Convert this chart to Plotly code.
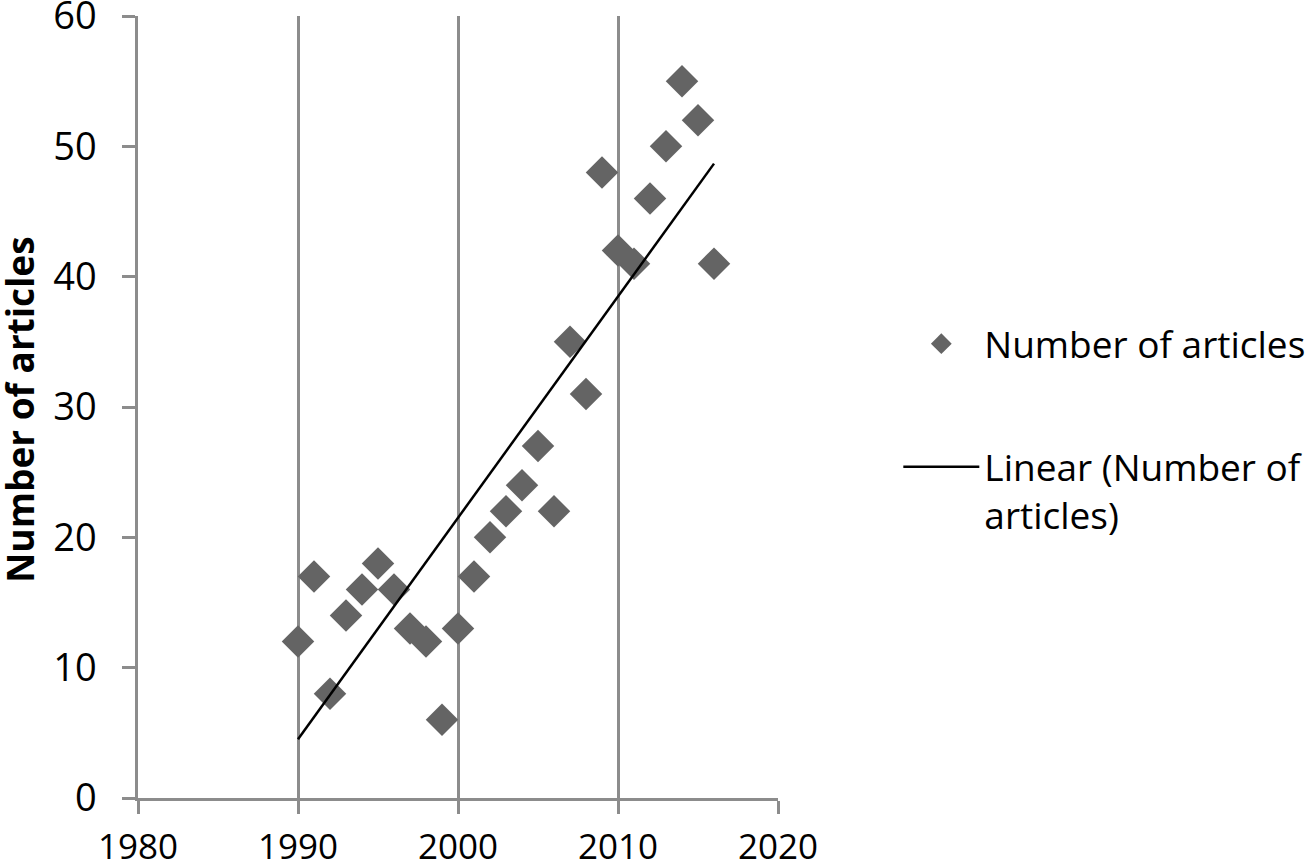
import numpy as np
import plotly.graph_objects as go

years = [1990, 1991, 1992, 1993, 1994, 1995, 1996, 1997, 1998, 1999,
         2000, 2001, 2002, 2003, 2004, 2005, 2006, 2007, 2008, 2009,
         2010, 2011, 2012, 2013, 2014, 2015, 2016]
articles = [12, 17, 8, 14, 16, 18, 16, 13, 12, 6,
            13, 17, 20, 22, 24, 27, 22, 35, 31, 48,
            42, 41, 46, 50, 55, 52, 41]
x_ticks = [1980, 1990, 2000, 2010, 2020]
y_ticks = [0, 10, 20, 30, 40, 50, 60]

slope, intercept = np.polyfit(years, articles, 1)
trend_x = [min(years), max(years)]
trend_y = [slope * v + intercept for v in trend_x]

FONT = "Open Sans"
GRAY = "#8c8c8c"

fig = go.Figure()
fig.add_trace(go.Scatter(
    x=years, y=articles, mode="markers", name="Number of articles",
    legendgroup="a",
    marker=dict(symbol="diamond", size=25, color="#646464", line=dict(width=0)),
))
fig.add_trace(go.Scatter(
    x=trend_x, y=trend_y, mode="lines", name="Linear (Number of<br>articles)",
    legendgroup="b",
    line=dict(color="#000000", width=2.5),
))

fig.update_layout(
    width=1311, height=867,
    margin=dict(l=138, r=533, t=16, b=69, autoexpand=False),
    paper_bgcolor="white", plot_bgcolor="white",
    font=dict(family=FONT, color="#000000", size=36),
    legend=dict(
        x=1.188, y=0.62, xanchor="left", yanchor="top",
        font=dict(family=FONT, size=37, color="#000000"),
        tracegroupgap=72, itemwidth=76, valign="top",
    ),
    showlegend=True,
    annotations=[dict(
        text="<b>Number of articles</b>", textangle=-90,
        xref="paper", yref="paper", x=-0.185, y=0.496,
        xanchor="center", yanchor="middle", showarrow=False,
        font=dict(family=FONT, size=37, color="#000000"),
    )],
)
fig.update_xaxes(
    range=[1980, 2020], tickvals=x_ticks, ticktext=[str(v) for v in x_ticks],
    showgrid=True, gridcolor=GRAY, gridwidth=2.5,
    showline=True, linecolor=GRAY, linewidth=2.5,
    ticks="outside", ticklen=13, tickwidth=2.5, tickcolor=GRAY,
    zeroline=False, tickfont=dict(family=FONT, size=35),
    ticklabelstandoff=3, automargin=False, ticklabeloverflow="allow",
)
fig.update_yaxes(
    range=[0, 60], tickvals=y_ticks,
    showgrid=False,
    showline=True, linecolor=GRAY, linewidth=2.5,
    ticks="outside", ticklen=13, tickwidth=2.5, tickcolor=GRAY,
    zeroline=False, tickfont=dict(family=FONT, size=38),
    ticklabelstandoff=18, automargin=False, ticklabeloverflow="allow",
)

fig.write_html("out.html", config={"displayModeBar": False},
               post_script="document.body.style.margin='0';")
